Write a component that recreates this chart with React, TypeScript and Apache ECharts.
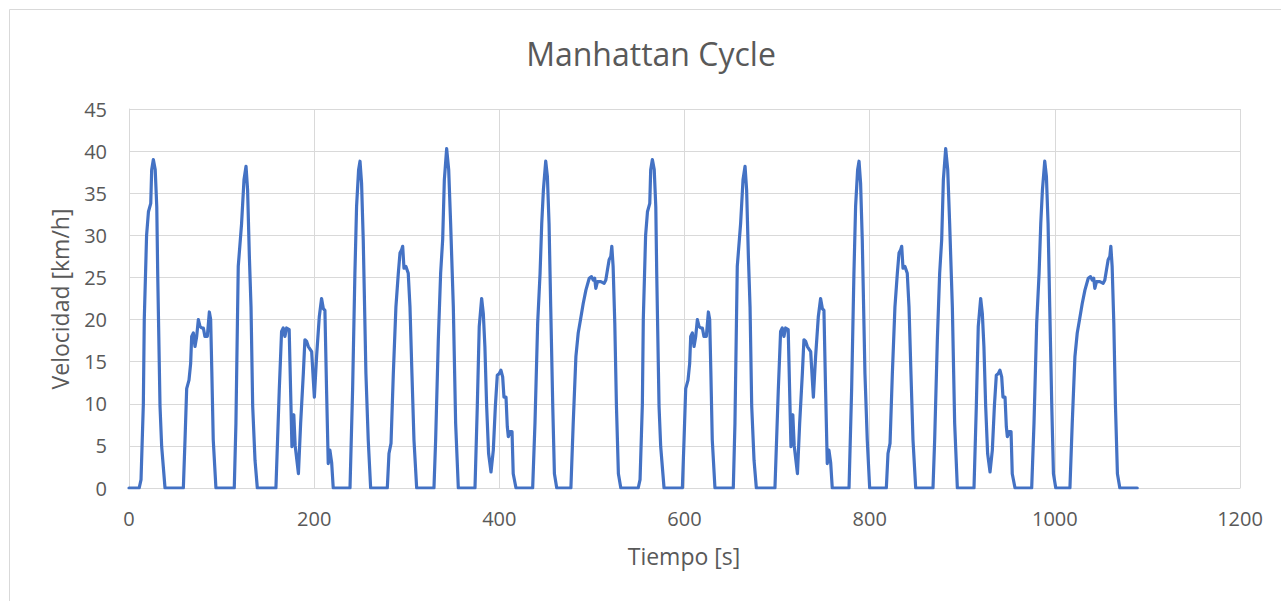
import React, { useEffect, useRef } from "react";
import * as echarts from "echarts";

// Tiempo [s] (first half of the cycle)
const tiempoA: number[] = [
  0, 11, 13, 15.5, 16.5, 19, 21, 23.5, 24.5, 26.3, 28.3, 30, 31, 33.5, 35.3, 38.9,
  58.7, 60.5, 62.3, 64.8, 66.6, 67.7, 69.5, 71.3, 73.1, 74.9, 76.7, 78.5, 80.3, 82, 84.6, 86.8, 88.2, 89.5, 91, 93.9,
  113.7, 115.5, 118, 121.6, 124.2, 126.4, 128.1, 130, 131.8, 133.6, 136.1, 138.6,
  158.7, 162.3, 164.8, 166.6, 168.4, 170.2, 173, 176, 178, 179.5, 183, 185.4, 188.3, 190, 191.9, 193.7, 197.3, 199.1, 200.2, 202.6, 205.5, 208, 209.9, 211.6, 213.4, 215.2, 217, 218.9, 220.6,
  238.7, 241.5, 244, 245.8, 248, 249.5, 251.2, 253, 255.9, 258.4, 261,
  279, 280.8, 283, 285.5, 288.3, 290.9, 292.7, 294.5, 295.6, 297, 299.1, 301.6, 303.5, 305.6, 307.8, 310.7,
  329.4, 331.2, 334.1, 336.6, 338.8, 340.6, 343.1, 345.3, 347.4, 350.3, 352.8, 355.7,
  373.7, 376.2, 378.3, 380.9, 382.7, 384.4, 386.3, 388.4, 391, 393.5, 395.7, 397.8, 400, 401.7, 403.6, 405, 407.2, 408.6, 409.7, 411.5, 413.7, 415, 418,
  436, 438.5, 441.4, 444, 445.8, 447.6, 450.1, 451.9, 453.7, 455.5, 457.7, 459.5, 462,
  477.3, 479.8, 482.7, 485.2, 487.7, 490.6, 493.5, 497.1, 499.6, 501.4, 503, 504.2, 506, 509.6, 513.2, 515, 516.8, 518.6, 520.4, 521.5, 522.9, 524.7, 526.5, 528.6, 531.2,
];
// Velocidad [km/h] (first half)
const velocidadA: number[] = [
  0, 0, 1, 10, 20, 30, 32.8, 33.8, 37.8, 39, 37.8, 33.4, 25.5, 9.7, 4.9, 0,
  0, 5.7, 11.8, 12.8, 14.8, 18, 18.4, 16.8, 18, 20, 19.2, 19, 19, 18, 18, 20.9, 20, 13.6, 5.7, 0,
  0, 7.7, 26.3, 31.4, 36.6, 38.2, 35.4, 27.5, 21.5, 9.7, 3.3, 0,
  0, 11.6, 18.6, 19, 18, 19, 18.8, 4.9, 8.7, 5, 1.7, 7.7, 13.6, 17.6, 17.4, 16.8, 16.2, 12.8, 10.8, 15.6, 20.3, 22.5, 21.3, 21.1, 11.6, 2.9, 4.5, 3, 0,
  0, 11.6, 25.5, 33.4, 37.8, 38.8, 36.2, 29.5, 13.6, 5.7, 0,
  0, 4.1, 5.3, 13.6, 21.5, 25.5, 27.9, 28.3, 28.7, 26.1, 26.3, 25.5, 21.5, 13.6, 5.7, 0,
  0, 5.7, 17.6, 25.5, 29.5, 36.6, 40.3, 37.8, 31.4, 21.5, 7.7, 0,
  0, 9.7, 19.2, 22.5, 20.7, 16.8, 9.7, 4.1, 1.9, 4.5, 9.7, 13.4, 13.6, 14, 13.2, 10.8, 10.8, 7.3, 6.1, 6.7, 6.7, 1.7, 0,
  0, 7.7, 19.6, 25.5, 31.4, 35.4, 38.8, 37, 31.4, 21.5, 9.7, 1.7, 0,
  0, 7.7, 15.6, 18.4, 20, 21.9, 23.5, 24.9, 25.1, 24.7, 24.9, 23.7, 24.5, 24.5, 24.3, 24.7, 25.9, 27.1, 27.5, 28.7, 26.3, 19.6, 9.7, 1.7, 0,
];

// Tiempo [s] (second half of the cycle)
const tiempoB: number[] = [
  550, 552, 554.5, 555.5, 558, 560, 562.5, 563.5, 565.3, 567.3, 569, 570, 572.5, 574.3, 577.9,
  597.7, 599.5, 601.3, 603.8, 605.6, 606.7, 608.5, 610.3, 612.1, 613.9, 615.7, 617.5, 619.3, 621, 623.6, 625.8, 627.2, 628.5, 630, 632.9,
  652.7, 654.5, 657, 660.6, 663.2, 665.4, 667.1, 669, 670.8, 672.6, 675.1, 677.6,
  697.7, 701.3, 703.8, 705.6, 707.4, 709.2, 712, 715, 717, 718.5, 722, 724.4, 727.3, 729, 730.9, 732.7, 736.3, 738.1, 739.2, 741.6, 744.5, 747, 748.9, 750.6, 752.4, 754.2, 756, 757.9, 759.6,
  777.7, 780.5, 783, 784.8, 787, 788.5, 790.2, 792, 794.9, 797.4, 800,
  818, 819.8, 822, 824.5, 827.3, 829.9, 831.7, 833.5, 834.6, 836, 838.1, 840.6, 842.5, 844.6, 846.8, 849.7,
  868.4, 870.2, 873.1, 875.6, 877.8, 879.6, 882.1, 884.3, 886.4, 889.3, 891.8, 894.7,
  912.7, 915.2, 917.3, 919.9, 921.7, 923.4, 925.3, 927.4, 930, 932.5, 934.7, 936.8, 939, 940.7, 942.6, 944, 946.2, 947.6, 948.7, 950.5, 952.7, 954, 957,
  975, 977.5, 980.4, 983, 984.8, 986.6, 989.1, 990.9, 992.7, 994.5, 996.7, 998.5, 1001,
  1016.3, 1018.8, 1021.7, 1024.2, 1026.7, 1029.6, 1032.5, 1036.1, 1038.6, 1040.4, 1042, 1043.2, 1045, 1048.6, 1052.2, 1054, 1055.8, 1057.6, 1059.4, 1060.5, 1061.9, 1063.7, 1065.5, 1067.6, 1070.2, 1089,
];
// Velocidad [km/h] (second half)
const velocidadB: number[] = [
  0, 1, 10, 20, 30, 32.8, 33.8, 37.8, 39, 37.8, 33.4, 25.5, 9.7, 4.9, 0,
  0, 5.7, 11.8, 12.8, 14.8, 18, 18.4, 16.8, 18, 20, 19.2, 19, 19, 18, 18, 20.9, 20, 13.6, 5.7, 0,
  0, 7.7, 26.3, 31.4, 36.6, 38.2, 35.4, 27.5, 21.5, 9.7, 3.3, 0,
  0, 11.6, 18.6, 19, 18, 19, 18.8, 4.9, 8.7, 5, 1.7, 7.7, 13.6, 17.6, 17.4, 16.8, 16.2, 12.8, 10.8, 15.6, 20.3, 22.5, 21.3, 21.1, 11.6, 2.9, 4.5, 3, 0,
  0, 11.6, 25.5, 33.4, 37.8, 38.8, 36.2, 29.5, 13.6, 5.7, 0,
  0, 4.1, 5.3, 13.6, 21.5, 25.5, 27.9, 28.3, 28.7, 26.1, 26.3, 25.5, 21.5, 13.6, 5.7, 0,
  0, 5.7, 17.6, 25.5, 29.5, 36.6, 40.3, 37.8, 31.4, 21.5, 7.7, 0,
  0, 9.7, 19.2, 22.5, 20.7, 16.8, 9.7, 4.1, 1.9, 4.5, 9.7, 13.4, 13.6, 14, 13.2, 10.8, 10.8, 7.3, 6.1, 6.7, 6.7, 1.7, 0,
  0, 7.7, 19.6, 25.5, 31.4, 35.4, 38.8, 37, 31.4, 21.5, 9.7, 1.7, 0,
  0, 7.7, 15.6, 18.4, 20, 21.9, 23.5, 24.9, 25.1, 24.7, 24.9, 23.7, 24.5, 24.5, 24.3, 24.7, 25.9, 27.1, 27.5, 28.7, 26.3, 19.6, 9.7, 1.7, 0, 0,
];

const chartTitle = "Manhattan Cycle";
const xName = "Tiempo [s]";
const yName = "Velocidad [km/h]";

const FONT = "'Open Sans', sans-serif";
const TEXT = "#595959";
const GRID = "#D9D9D9";

export default function App() {
  const ref = useRef<HTMLDivElement>(null);
  useEffect(() => {
    if (!ref.current) return;
    const chart = echarts.init(ref.current, undefined, { renderer: "svg" });
    const t = [...tiempoA, ...tiempoB];
    const v = [...velocidadA, ...velocidadB];
    const data = t.map((x, i) => [x, v[i]]);
    chart.setOption({
      animation: false,
      backgroundColor: "#ffffff",
      grid: { left: 129, right: 41, top: 109, bottom: 113, containLabel: false },
      xAxis: {
        type: "value",
        min: 0,
        max: 1200,
        interval: 200,
        axisLine: { show: true, lineStyle: { color: GRID, width: 1 } },
        axisTick: { show: false },
        axisLabel: {
          color: TEXT,
          fontSize: 20,
          fontFamily: FONT,
          margin: 20,
          formatter: (val: number) => String(val),
        },
        splitLine: { show: true, lineStyle: { color: GRID, width: 1 } },
      },
      yAxis: {
        type: "value",
        min: 0,
        max: 45,
        interval: 5,
        axisLine: { show: true, lineStyle: { color: GRID, width: 1 } },
        axisTick: { show: false },
        axisLabel: {
          color: TEXT,
          fontSize: 20,
          fontFamily: FONT,
          margin: 22,
          formatter: (val: number) => String(val),
        },
        splitLine: { show: true, lineStyle: { color: GRID, width: 1 } },
      },
      graphic: [
        {
          type: "rect",
          shape: { x: 9.5, y: 9.5, width: 1400, height: 800 },
          style: { fill: "none", stroke: GRID, lineWidth: 1 },
          silent: true,
          z: -1,
        },
        {
          type: "text",
          x: 651,
          y: 53,
          style: {
            text: chartTitle,
            fill: TEXT,
            font: `32px ${FONT}`,
            textAlign: "center",
            textVerticalAlign: "middle",
          },
        },
        {
          type: "text",
          x: 684,
          y: 556,
          style: {
            text: xName,
            fill: TEXT,
            font: `23px ${FONT}`,
            textAlign: "center",
            textVerticalAlign: "middle",
          },
        },
        {
          type: "text",
          x: 60,
          y: 299,
          rotation: Math.PI / 2,
          style: {
            text: yName,
            fill: TEXT,
            font: `23px ${FONT}`,
            textAlign: "center",
            textVerticalAlign: "middle",
          },
        },
      ],
      series: [
        {
          type: "line",
          data,
          showSymbol: false,
          smooth: false,
          lineStyle: { color: "#4472C4", width: 3.2, cap: "round", join: "round" },
          itemStyle: { color: "#4472C4" },
        },
      ],
    });
    return () => chart.dispose();
  }, []);
  return (
    <div
      ref={ref}
      style={{ position: "absolute", left: 0, top: 0, width: 1281, height: 601, background: "#fff" }}
    />
  );
}
